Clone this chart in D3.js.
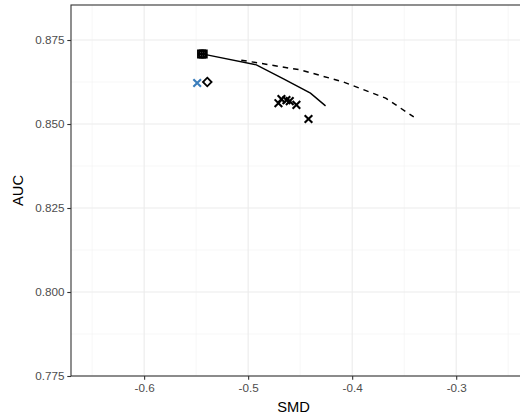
<!DOCTYPE html>
<html><head><meta charset="utf-8">
<script src="https://cdn.jsdelivr.net/npm/d3@7"></script>
<style>body{margin:0;background:#fff}svg{display:block;font-family:"Liberation Sans",Arial,sans-serif}</style>
</head><body>
<script>
// Data
const solidSMD = [-0.5432, -0.4921, -0.4660, -0.4401, -0.4256];
const solidAUC = [0.8708, 0.8676, 0.8634, 0.8592, 0.8554];
const dashSMD = [-0.5066, -0.4497, -0.4083, -0.3678, -0.3408];
const dashAUC = [0.8690, 0.8661, 0.8625, 0.8577, 0.8521];
const crossSMD = [-0.4709, -0.4680, -0.4632, -0.4600, -0.4536, -0.4420];
const crossAUC = [0.8562, 0.8574, 0.8571, 0.8568, 0.8557, 0.8515];
const blueSMD = [-0.5490];
const blueAUC = [0.8622];
const diamondSMD = [-0.5393];
const diamondAUC = [0.8625];
const squareSMD = [-0.5448, -0.5432];
const squareAUC = [0.8708, 0.8708];
const circleSMD = [-0.5440];
const circleAUC = [0.8708];
const xTicks = [-0.6, -0.5, -0.4, -0.3];
const yTicks = [0.775, 0.800, 0.825, 0.850, 0.875];
const xMinor = [-0.65, -0.55, -0.45, -0.35, -0.25];
const yMinor = [0.7875, 0.8125, 0.8375, 0.8625];

const W = 520, H = 417;
const L = 71, T = 5, B = 376, R = 526;
const x = d3.scaleLinear().domain([-0.6703, -0.2329]).range([L, R]);
const y = d3.scaleLinear().domain([0.775, 0.88542]).range([B, T]);

const svg = d3.select("body").append("svg").attr("width", W).attr("height", H);
const g = svg.append("g");

// grid
g.selectAll(".xm").data(xMinor).join("line").attr("x1", d=>x(d)).attr("x2", d=>x(d)).attr("y1", T).attr("y2", B).attr("stroke", "#f2f2f2").attr("stroke-width", 0.6);
g.selectAll(".ym").data(yMinor).join("line").attr("class","ym").attr("y1", d=>y(d)).attr("y2", d=>y(d)).attr("x1", L).attr("x2", R).attr("stroke", "#f2f2f2").attr("stroke-width", 0.6);
g.selectAll(".xM").data(xTicks).join("line").attr("class","xM").attr("x1", d=>x(d)).attr("x2", d=>x(d)).attr("y1", T).attr("y2", B).attr("stroke", "#ebebeb").attr("stroke-width", 1.1);
g.selectAll(".yM").data(yTicks).join("line").attr("class","yM").attr("y1", d=>y(d)).attr("y2", d=>y(d)).attr("x1", L).attr("x2", R).attr("stroke", "#ebebeb").attr("stroke-width", 1.1);

// lines
const line = d3.line().x(d=>x(d[0])).y(d=>y(d[1]));
g.append("path").datum(solidSMD.map((v,i)=>[v, solidAUC[i]])).attr("d", line).attr("fill","none").attr("stroke","#000").attr("stroke-width",1.4);
g.append("path").datum(dashSMD.map((v,i)=>[v, dashAUC[i]])).attr("d", line).attr("fill","none").attr("stroke","#000").attr("stroke-width",1.5).attr("stroke-dasharray","5.5,5");

// markers
function cross(sel, col){
  sel.append("path").attr("d","M-3.8,-3.8L3.8,3.8M-3.8,3.8L3.8,-3.8").attr("stroke",col).attr("stroke-width",2.1).attr("fill","none");
}
g.selectAll(".cx").data(crossSMD.map((v,i)=>[v, crossAUC[i]])).join("g").attr("transform", d=>`translate(${x(d[0])},${y(d[1])})`).call(s=>cross(s,"#000"));
g.selectAll(".bx").data(blueSMD.map((v,i)=>[v, blueAUC[i]])).join("g").attr("transform", d=>`translate(${x(d[0])},${y(d[1])})`).call(s=>cross(s,"#3a7dbb"));
g.selectAll(".dm").data(diamondSMD.map((v,i)=>[v, diamondAUC[i]])).join("path").attr("transform", d=>`translate(${x(d[0])},${y(d[1])})`).attr("d","M0,-4.3L4.3,0L0,4.3L-4.3,0Z").attr("fill","none").attr("stroke","#000").attr("stroke-width",1.8);
g.selectAll(".sq").data(squareSMD.map((v,i)=>[v, squareAUC[i]])).join("path").attr("transform", d=>`translate(${x(d[0])},${y(d[1])})`).attr("d","M-3.6,-3.6H3.6V3.6H-3.6ZM0,-3.6V3.6M-3.6,0H3.6").attr("fill","none").attr("stroke","#000").attr("stroke-width",1.8);
g.selectAll(".ci").data(circleSMD.map((v,i)=>[v, circleAUC[i]])).join("circle").attr("cx", d=>x(d[0])).attr("cy", d=>y(d[1])).attr("r",3.6).attr("fill","none").attr("stroke","#000").attr("stroke-width",1.8);

// panel border
g.append("rect").attr("x", L).attr("y", T).attr("width", R-L).attr("height", B-T).attr("fill","none").attr("stroke","#333").attr("stroke-width",1.1);

// axes
const hy = s => s.replace("\u2212", "-");
const xa = svg.append("g").attr("transform", `translate(0,${B})`).call(d3.axisBottom(x).tickValues(xTicks).tickSize(3.7).tickFormat(d=>hy(d3.format(".1f")(d))));
const ya = svg.append("g").attr("transform", `translate(${L},0)`).call(d3.axisLeft(y).tickValues(yTicks).tickSize(3.7).tickFormat(d3.format(".3f")));
[xa, ya].forEach(a=>{
  a.select(".domain").remove();
  a.selectAll(".tick line").attr("stroke","#333").attr("stroke-width",1.1);
  a.selectAll(".tick text").attr("fill","#4d4d4d").style("font-size","11.7px").style("font-family",'"Liberation Sans",Arial,sans-serif');
});
xa.selectAll(".tick text").attr("dy","0.71em").attr("y", 7.5);
ya.selectAll(".tick text").attr("x", -6.5);

svg.append("text").attr("x", (L+R)/2 - 5).attr("y", 412).attr("text-anchor","middle").style("font-size","14.7px").attr("fill","#000").text("SMD");
svg.append("text").attr("transform", `translate(23,${(T+B)/2}) rotate(-90)`).attr("text-anchor","middle").style("font-size","14.7px").attr("fill","#000").text("AUC");
</script>
</body></html>
